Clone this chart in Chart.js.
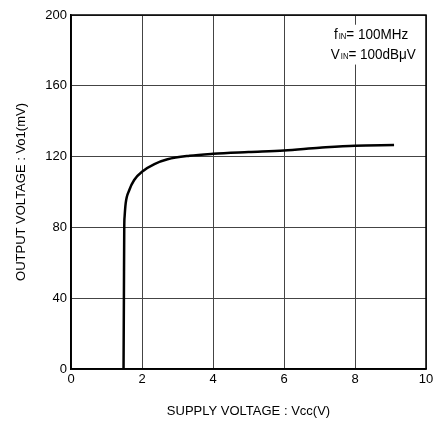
<!DOCTYPE html>
<html><head><meta charset="utf-8">
<script src="https://cdn.jsdelivr.net/npm/chart.js@4/dist/chart.umd.min.js"></script>
<style>html,body{margin:0;padding:0;background:#fff}#wrap{width:439px;height:425px}</style>
</head><body><div id="wrap"><canvas id="c" width="439" height="425"></canvas></div>
<script>
const vccValues = [1.48, 1.49, 1.50, 1.51, 1.54, 1.64, 1.78, 2.03, 2.35, 2.72, 3.34, 4.0, 5.0, 6.0, 7.0, 8.0, 9.1];
const voValues  = [0, 40, 80, 86, 93.6, 101, 106.8, 111.9, 115.8, 118.5, 120.5, 121.6, 122.6, 123.5, 125.0, 126.2, 126.5];
const xTicks = [0, 2, 4, 6, 8, 10];
const yTicks = [0, 40, 80, 120, 160, 200];
const xTitle = 'SUPPLY VOLTAGE : Vcc(V)';
const yTitle = 'OUTPUT VOLTAGE : Vo1(mV)';
const noteLines = [
  { at: [7.41, 186.4], parts: [['f', 15], ['IN', 8.5], ['= 100MHz', 15]] },
  { at: [7.32, 175.1], parts: [['V', 15], ['IN', 8.5], ['= 100dBμV', 15]] }
];

const FONT = 'Liberation Sans, Arial, sans-serif';
const points = vccValues.map((x, i) => ({x, y: voValues[i]}));

const framePlugin = {
  id: 'frame',
  afterDatasetsDraw(chart) {
    const {ctx, chartArea: a} = chart;
    const xs = chart.scales.x, ys = chart.scales.y;
    ctx.save();
    const bx = xs.getPixelForValue(7.1), by = ys.getPixelForValue(194.5), by2 = ys.getPixelForValue(172);
    ctx.fillStyle = '#fff';
    ctx.fillRect(bx, by, a.right - bx - 1, by2 - by);
    ctx.fillStyle = '#000';
    ctx.textBaseline = 'alphabetic';
    const sx = 0.9;
    noteLines.forEach(line => {
      const x0 = xs.getPixelForValue(line.at[0]);
      const y = ys.getPixelForValue(line.at[1]);
      ctx.save();
      ctx.translate(x0, y);
      ctx.scale(sx, 1);
      let x = 0;
      line.parts.forEach(([t, sz], k) => {
        ctx.font = sz + 'px ' + FONT;
        ctx.fillText(t, x, 0);
        x += ctx.measureText(t).width + (k === 0 ? 1 : 0);
      });
      ctx.restore();
    });
    ctx.strokeStyle = '#000';
    ctx.lineWidth = 1.5;
    ctx.strokeRect(a.left, a.top, a.right - a.left, a.bottom - a.top);
    ctx.restore();
  }
};

new Chart(document.getElementById('c'), {
  type: 'line',
  data: { datasets: [{ data: points, borderColor: '#000', borderWidth: 2.5, pointRadius: 0, cubicInterpolationMode: 'monotone', fill: false }] },
  options: {
    responsive: false, animation: false,
    layout: { padding: { top: 15, right: 13, left: 0, bottom: 0 } },
    plugins: { legend: { display: false }, tooltip: { enabled: false } },
    scales: {
      x: {
        type: 'linear', min: 0, max: 10,
        afterBuildTicks: s => { s.ticks = xTicks.map(v => ({value: v})); },
        afterFit: s => { s.height = 56; },
        grid: { color: '#444', lineWidth: 1, drawTicks: false },
        border: { color: '#000', width: 1.5 },
        ticks: { color: '#000', font: { family: FONT, size: 13 }, padding: 3, maxRotation: 0 },
        title: { display: true, text: xTitle, color: '#000', font: { family: FONT, size: 13 }, padding: { top: 0, bottom: 6 } }
      },
      y: {
        type: 'linear', min: 0, max: 200,
        afterBuildTicks: s => { s.ticks = yTicks.map(v => ({value: v})); },
        afterFit: s => { s.width = 71; },
        grid: { color: '#444', lineWidth: 1, drawTicks: false },
        border: { color: '#000', width: 1.5 },
        ticks: { color: '#000', font: { family: FONT, size: 13 }, padding: 4 },
        title: { display: true, text: yTitle, color: '#000', font: { family: FONT, size: 13 }, padding: { top: 14, bottom: 0 } }
      }
    }
  },
  plugins: [framePlugin]
});
</script></body></html>
